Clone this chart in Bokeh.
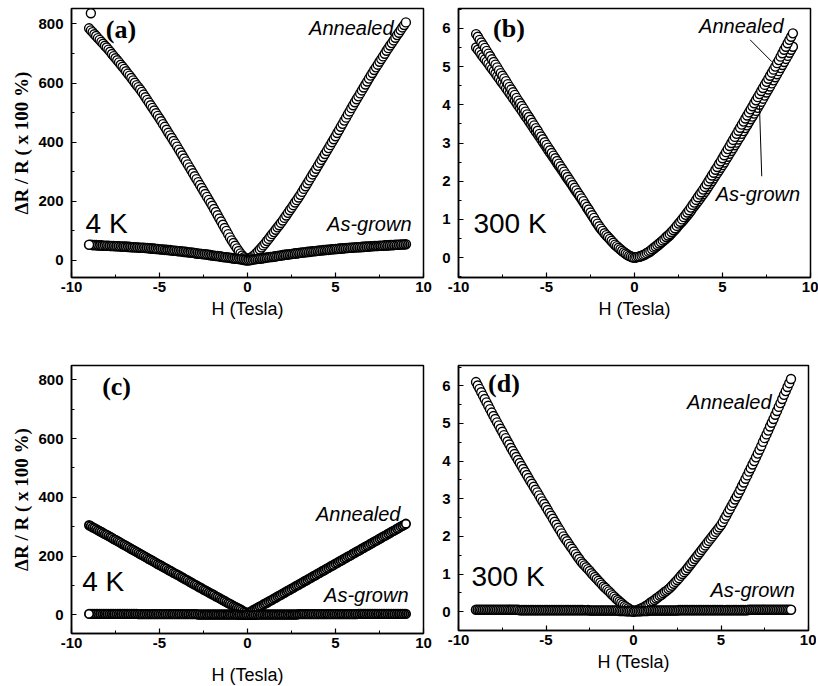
import numpy as np
from bokeh.plotting import figure
from bokeh.layouts import row, column
from bokeh.models import Label, Range1d, SingleIntervalTicker
from bokeh.embed import file_html
from bokeh.resources import INLINE

# Magnetic field sweep (Tesla), 0.1 T steps from -9 to 9
H = np.round(np.arange(-90, 91) / 10.0, 1)

# ---------------- (a) 4 K, % ----------------
A_ANN = [
    785, 778, 772, 765, 759, 752, 746, 739, 733, 726,
    720, 713, 706, 698, 691, 684, 677, 670, 662, 655,
    648, 640, 632, 625, 617, 609, 601, 593, 586, 578,
    570, 561, 552, 543, 534, 525, 516, 507, 498, 489,
    480, 471, 461, 452, 442, 432, 423, 414, 404, 395,
    385, 375, 365, 355, 345, 335, 325, 315, 305, 295,
    285, 275, 265, 255, 245, 235, 225, 215, 205, 195,
    185, 174, 164, 153, 142, 132, 121, 110, 100, 89,
    78, 68, 59, 50, 41, 32, 24, 17, 11, 7,
    5,
    7, 10, 14, 19, 25, 31, 37, 44, 51, 58,
    66, 73, 81, 89, 96, 104, 112, 119, 127, 135,
    144, 152, 161, 170, 178, 187, 196, 204, 213, 222,
    232, 242, 251, 261, 271, 281, 291, 300, 310, 320,
    330, 340, 350, 360, 370, 380, 390, 400, 410, 420,
    431, 441, 452, 462, 473, 483, 494, 504, 515, 525,
    535, 545, 555, 565, 575, 585, 595, 605, 615, 625,
    634, 644, 653, 662, 672, 681, 690, 699, 709, 718,
    727, 735, 744, 753, 762, 770, 779, 788, 796, 805,
]
A_ANN_FIRST_H = [-8.9]
A_ANN_FIRST_V = [836]
A_ASG = [
    53, 53, 52, 52, 52, 51, 51, 51, 50, 50,
    50, 50, 49, 49, 49, 48, 48, 48, 47, 47,
    47, 47, 46, 46, 45, 45, 45, 44, 44, 43,
    43, 43, 42, 42, 41, 41, 40, 40, 39, 39,
    38, 37, 37, 36, 36, 35, 35, 34, 33, 33,
    32, 31, 31, 30, 29, 29, 28, 27, 27, 26,
    25, 24, 23, 23, 22, 21, 21, 20, 19, 18,
    17, 16, 15, 15, 14, 13, 12, 11, 11, 10,
    9, 8, 7, 6, 6, 5, 4, 3, 2, 1,
    0,
    1, 2, 3, 4, 5, 6, 6, 7, 8, 9,
    10, 11, 12, 12, 13, 14, 15, 16, 17, 18,
    19, 20, 20, 21, 22, 23, 24, 24, 25, 26,
    27, 27, 28, 29, 29, 30, 31, 31, 32, 33,
    34, 34, 35, 35, 36, 36, 37, 38, 38, 39,
    39, 40, 40, 41, 41, 42, 42, 43, 43, 44,
    44, 45, 45, 45, 46, 46, 47, 47, 47, 48,
    48, 49, 49, 49, 50, 50, 50, 51, 51, 51,
    52, 52, 52, 53, 53, 53, 54, 54, 54, 55,
]

# ---------------- (b) 300 K, % ----------------
B_ANN = [
    5.85, 5.78, 5.70, 5.63, 5.56, 5.49, 5.41, 5.34, 5.27, 5.19,
    5.12, 5.05, 4.98, 4.90, 4.83, 4.76, 4.69, 4.62, 4.54, 4.47,
    4.40, 4.33, 4.26, 4.18, 4.11, 4.04, 3.97, 3.90, 3.82, 3.75,
    3.68, 3.61, 3.53, 3.46, 3.39, 3.32, 3.24, 3.17, 3.10, 3.02,
    2.95, 2.88, 2.81, 2.74, 2.67, 2.60, 2.53, 2.46, 2.39, 2.32,
    2.25, 2.18, 2.11, 2.04, 1.97, 1.90, 1.83, 1.76, 1.69, 1.62,
    1.55, 1.48, 1.40, 1.33, 1.26, 1.18, 1.11, 1.04, 0.96, 0.89,
    0.82, 0.76, 0.70, 0.64, 0.59, 0.54, 0.49, 0.44, 0.39, 0.34,
    0.30, 0.26, 0.22, 0.18, 0.14, 0.11, 0.08, 0.05, 0.03, 0.01,
    0.00,
    0.01, 0.02, 0.03, 0.05, 0.07, 0.09, 0.12, 0.15, 0.18, 0.22,
    0.26, 0.29, 0.33, 0.37, 0.41, 0.45, 0.49, 0.54, 0.58, 0.62,
    0.67, 0.72, 0.77, 0.83, 0.89, 0.94, 1.00, 1.06, 1.12, 1.18,
    1.24, 1.31, 1.38, 1.44, 1.51, 1.58, 1.65, 1.71, 1.78, 1.85,
    1.92, 2.00, 2.07, 2.15, 2.22, 2.30, 2.37, 2.45, 2.52, 2.60,
    2.68, 2.76, 2.84, 2.92, 3.00, 3.08, 3.16, 3.24, 3.32, 3.40,
    3.48, 3.56, 3.64, 3.72, 3.80, 3.88, 3.96, 4.04, 4.12, 4.20,
    4.28, 4.36, 4.44, 4.52, 4.60, 4.68, 4.76, 4.84, 4.92, 5.00,
    5.09, 5.17, 5.26, 5.35, 5.44, 5.52, 5.61, 5.70, 5.78, 5.87,
]
B_ASG = [
    5.50, 5.44, 5.38, 5.31, 5.25, 5.19, 5.13, 5.07, 5.00, 4.94,
    4.88, 4.82, 4.75, 4.69, 4.62, 4.56, 4.50, 4.43, 4.37, 4.30,
    4.24, 4.17, 4.11, 4.04, 3.97, 3.91, 3.84, 3.77, 3.70, 3.64,
    3.57, 3.50, 3.43, 3.36, 3.29, 3.23, 3.16, 3.09, 3.02, 2.95,
    2.88, 2.81, 2.74, 2.68, 2.61, 2.54, 2.47, 2.40, 2.34, 2.27,
    2.20, 2.13, 2.06, 2.00, 1.93, 1.86, 1.79, 1.72, 1.66, 1.59,
    1.52, 1.45, 1.38, 1.30, 1.23, 1.16, 1.09, 1.02, 0.94, 0.87,
    0.80, 0.74, 0.69, 0.63, 0.58, 0.53, 0.48, 0.43, 0.38, 0.33,
    0.29, 0.25, 0.21, 0.17, 0.14, 0.10, 0.07, 0.05, 0.03, 0.01,
    0.00,
    0.01, 0.02, 0.03, 0.04, 0.06, 0.08, 0.11, 0.13, 0.16, 0.20,
    0.23, 0.27, 0.30, 0.34, 0.38, 0.42, 0.46, 0.50, 0.54, 0.58,
    0.63, 0.68, 0.73, 0.78, 0.84, 0.89, 0.94, 0.99, 1.05, 1.10,
    1.16, 1.22, 1.29, 1.35, 1.41, 1.47, 1.53, 1.60, 1.66, 1.72,
    1.79, 1.86, 1.93, 2.00, 2.07, 2.14, 2.21, 2.28, 2.35, 2.42,
    2.49, 2.57, 2.64, 2.72, 2.79, 2.86, 2.94, 3.01, 3.09, 3.16,
    3.24, 3.31, 3.39, 3.46, 3.54, 3.62, 3.69, 3.77, 3.84, 3.92,
    4.00, 4.08, 4.16, 4.24, 4.32, 4.40, 4.48, 4.56, 4.64, 4.72,
    4.80, 4.88, 4.96, 5.04, 5.12, 5.20, 5.28, 5.36, 5.44, 5.52,
]

# ---------------- (c) 4 K, % ----------------
C_ANN = [
    305, 302, 298, 295, 292, 288, 285, 282, 278, 275,
    272, 269, 265, 262, 258, 255, 252, 248, 245, 241,
    238, 235, 231, 228, 224, 221, 218, 214, 211, 207,
    204, 201, 197, 194, 190, 187, 184, 180, 177, 173,
    170, 167, 163, 160, 157, 153, 150, 147, 143, 140,
    137, 134, 130, 127, 123, 120, 117, 113, 110, 106,
    103, 100, 96, 93, 90, 86, 83, 80, 76, 73,
    70, 67, 63, 60, 57, 53, 50, 47, 43, 40,
    37, 34, 30, 27, 24, 21, 18, 14, 11, 8,
    5,
    8, 11, 15, 18, 21, 25, 28, 31, 35, 38,
    41, 45, 48, 51, 55, 58, 62, 65, 68, 72,
    75, 79, 82, 85, 89, 92, 96, 99, 102, 106,
    109, 113, 116, 119, 123, 126, 130, 133, 136, 140,
    143, 147, 150, 153, 157, 160, 164, 167, 170, 174,
    177, 181, 184, 187, 191, 194, 198, 201, 204, 208,
    211, 215, 218, 221, 225, 228, 232, 235, 238, 242,
    245, 249, 252, 255, 259, 262, 266, 269, 272, 276,
    279, 283, 286, 289, 293, 296, 300, 303, 306, 310,
]
C_ASG = [
    3, 3, 3, 3, 3, 3, 3, 3, 3, 3,
    3, 3, 3, 3, 3, 3, 3, 3, 3, 3,
    3, 3, 3, 3, 3, 3, 3, 3, 2, 2,
    2, 2, 2, 2, 2, 2, 2, 2, 2, 2,
    2, 2, 2, 2, 2, 2, 2, 2, 2, 2,
    2, 2, 2, 2, 2, 2, 2, 2, 2, 2,
    2, 2, 1, 1, 1, 1, 1, 1, 1, 1,
    1, 1, 1, 1, 1, 1, 1, 1, 1, 1,
    1, 1, 1, 1, 1, 0, 0, 0, 0, 0,
    0,
    0, 0, 0, 0, 0, 1, 1, 1, 1, 1,
    1, 1, 1, 1, 1, 1, 1, 1, 1, 1,
    1, 1, 1, 1, 1, 1, 1, 1, 2, 2,
    2, 2, 2, 2, 2, 2, 2, 2, 2, 2,
    2, 2, 2, 2, 2, 2, 2, 2, 2, 2,
    2, 2, 2, 2, 2, 2, 2, 2, 2, 2,
    2, 2, 3, 3, 3, 3, 3, 3, 3, 3,
    3, 3, 3, 3, 3, 3, 3, 3, 3, 3,
    3, 3, 3, 3, 3, 3, 3, 3, 3, 3,
]

# ---------------- (d) 300 K, % ----------------
D_ANN = [
    6.10, 6.01, 5.92, 5.83, 5.74, 5.65, 5.56, 5.47, 5.38, 5.29,
    5.20, 5.12, 5.03, 4.95, 4.86, 4.78, 4.69, 4.61, 4.52, 4.44,
    4.35, 4.27, 4.19, 4.11, 4.03, 3.95, 3.87, 3.79, 3.71, 3.63,
    3.55, 3.47, 3.40, 3.32, 3.24, 3.17, 3.09, 3.01, 2.93, 2.86,
    2.78, 2.70, 2.62, 2.55, 2.47, 2.39, 2.31, 2.23, 2.16, 2.08,
    2.00, 1.93, 1.87, 1.80, 1.73, 1.67, 1.60, 1.53, 1.46, 1.40,
    1.33, 1.28, 1.23, 1.18, 1.13, 1.08, 1.02, 0.97, 0.92, 0.87,
    0.82, 0.77, 0.72, 0.67, 0.63, 0.58, 0.54, 0.49, 0.44, 0.40,
    0.35, 0.31, 0.27, 0.23, 0.19, 0.15, 0.12, 0.09, 0.06, 0.04,
    0.02,
    0.03, 0.04, 0.06, 0.08, 0.10, 0.12, 0.15, 0.18, 0.21, 0.25,
    0.28, 0.31, 0.35, 0.38, 0.42, 0.45, 0.49, 0.53, 0.56, 0.60,
    0.64, 0.69, 0.74, 0.79, 0.84, 0.89, 0.95, 1.00, 1.05, 1.10,
    1.16, 1.22, 1.28, 1.34, 1.40, 1.46, 1.52, 1.58, 1.64, 1.70,
    1.76, 1.82, 1.88, 1.94, 2.00, 2.06, 2.12, 2.18, 2.24, 2.30,
    2.38, 2.47, 2.55, 2.64, 2.72, 2.81, 2.89, 2.98, 3.06, 3.15,
    3.24, 3.34, 3.43, 3.53, 3.62, 3.72, 3.81, 3.91, 4.00, 4.10,
    4.20, 4.30, 4.40, 4.51, 4.61, 4.71, 4.81, 4.92, 5.02, 5.12,
    5.23, 5.33, 5.44, 5.54, 5.65, 5.76, 5.86, 5.97, 6.07, 6.18,
]
D_ASG = [
    0.05, 0.05, 0.05, 0.05, 0.05, 0.05, 0.05, 0.05, 0.05, 0.05,
    0.05, 0.05, 0.05, 0.05, 0.05, 0.05, 0.05, 0.05, 0.05, 0.05,
    0.05, 0.05, 0.05, 0.05, 0.05, 0.04, 0.04, 0.04, 0.04, 0.04,
    0.04, 0.04, 0.04, 0.04, 0.04, 0.04, 0.04, 0.04, 0.04, 0.04,
    0.04, 0.04, 0.04, 0.04, 0.04, 0.04, 0.04, 0.04, 0.04, 0.04,
    0.04, 0.04, 0.04, 0.04, 0.04, 0.04, 0.04, 0.04, 0.04, 0.04,
    0.04, 0.04, 0.04, 0.04, 0.04, 0.03, 0.03, 0.03, 0.03, 0.03,
    0.03, 0.03, 0.03, 0.03, 0.03, 0.03, 0.03, 0.03, 0.03, 0.03,
    0.03, 0.03, 0.02, 0.02, 0.02, 0.02, 0.01, 0.01, 0.01, 0.01,
    0.00,
    0.01, 0.01, 0.01, 0.01, 0.02, 0.02, 0.02, 0.02, 0.03, 0.03,
    0.03, 0.03, 0.03, 0.03, 0.03, 0.03, 0.03, 0.03, 0.03, 0.03,
    0.03, 0.03, 0.03, 0.03, 0.03, 0.04, 0.04, 0.04, 0.04, 0.04,
    0.04, 0.04, 0.04, 0.04, 0.04, 0.04, 0.04, 0.04, 0.04, 0.04,
    0.04, 0.04, 0.04, 0.04, 0.04, 0.04, 0.04, 0.04, 0.04, 0.04,
    0.04, 0.04, 0.04, 0.04, 0.04, 0.04, 0.04, 0.04, 0.04, 0.04,
    0.04, 0.04, 0.04, 0.04, 0.04, 0.05, 0.05, 0.05, 0.05, 0.05,
    0.05, 0.05, 0.05, 0.05, 0.05, 0.05, 0.05, 0.05, 0.05, 0.05,
    0.05, 0.05, 0.05, 0.05, 0.05, 0.05, 0.05, 0.05, 0.05, 0.05,
]

# Leader lines in panel (b): [x0, y0, x1, y1]
B_LEADER_ANN = [6.57, 5.70, 7.80, 5.13]
B_LEADER_ASG = [7.10, 3.96, 7.23, 2.13]

Y_LABEL = "\u0394R / R ( x 100 %)"
X_LABEL = "H (Tesla)"
X_TICK_TEXT = {-10: "-10", -5: "-5", 0: "0", 5: "5", 10: "10"}
SANS = "Liberation Sans"
SERIF = "Liberation Serif"


def make_fig(yr, ytick, b_left, b_right, b_top, b_bottom, fw, fh,
             ylabel=None, xlab_standoff=4):
    p = figure(frame_width=fw, frame_height=fh,
               min_border_left=b_left, min_border_right=b_right,
               min_border_top=b_top, min_border_bottom=b_bottom,
               x_range=Range1d(-10, 10), y_range=Range1d(*yr),
               output_backend="svg", toolbar_location=None, tools="")
    p.background_fill_color = "white"
    p.border_fill_color = "white"
    p.grid.visible = False
    p.outline_line_color = "black"
    p.outline_line_width = 1.5
    p.outline_line_alpha = 1.0
    p.xaxis.ticker = SingleIntervalTicker(interval=5, num_minor_ticks=2)
    p.yaxis.ticker = SingleIntervalTicker(interval=ytick, num_minor_ticks=2)
    p.xaxis.major_label_overrides = X_TICK_TEXT
    for ax in (p.xaxis[0], p.yaxis[0]):
        ax.axis_line_width = 1.5
        ax.axis_line_color = "black"
        ax.major_tick_in = 5
        ax.major_tick_out = 0
        ax.minor_tick_in = 3
        ax.minor_tick_out = 0
        ax.major_tick_line_width = 1.2
        ax.minor_tick_line_width = 1.0
        ax.major_label_text_font = SANS
        ax.major_label_text_font_size = "15px"
        ax.major_label_text_font_style = "bold"
        ax.major_label_text_color = "black"
    p.xaxis.major_label_standoff = 4
    p.yaxis.major_label_standoff = 8
    p.xaxis.axis_label = X_LABEL
    p.xaxis.axis_label_text_font = SANS
    p.xaxis.axis_label_text_font_size = "18px"
    p.xaxis.axis_label_text_font_style = "normal"
    p.xaxis.axis_label_text_color = "black"
    p.xaxis.axis_label_standoff = xlab_standoff
    if ylabel:
        p.yaxis.axis_label = ylabel
        p.yaxis.axis_label_text_font = SERIF
        p.yaxis.axis_label_text_font_size = "19px"
        p.yaxis.axis_label_text_font_style = "bold"
        p.yaxis.axis_label_text_color = "black"
        p.yaxis.axis_label_standoff = 3
    return p


def circles(p, xs, ys, size=9, lw=1.4):
    p.scatter(x=list(xs), y=list(ys), marker="circle", size=size,
              fill_color="white", line_color="black", line_width=lw)


def text(p, x, y, s, size, align="left", font=SANS, style="normal",
         baseline="alphabetic"):
    p.add_layout(Label(x=x, y=y, text=s, text_font=font,
                       text_font_size=size, text_font_style=style,
                       text_align=align, text_baseline=baseline,
                       text_color="black"))


H_rev = H[::-1]

# (a)
pa = make_fig((-57.5, 852), 200, 71, 16, 8, 53, 352, 269, Y_LABEL)
circles(pa, H, A_ANN)
circles(pa, A_ANN_FIRST_H, A_ANN_FIRST_V)
circles(pa, H_rev, A_ASG[::-1], lw=1.6)
text(pa, -7.19, 782, "(a)", "26px", align="center", font=SERIF,
     style="bold", baseline="middle")
text(pa, 8.3, 786, "Annealed", "20px", align="right", style="italic")
text(pa, 9.32, 125, "As-grown", "20px", align="right", style="italic")
text(pa, -9.2, 124, "4 K", "28px")

# (b)
pb = make_fig((-0.52, 6.52), 1, 16, 8, 8, 53, 352, 269)
circles(pb, H, B_ASG)
circles(pb, H, B_ANN)
pb.segment(x0=[B_LEADER_ANN[0], B_LEADER_ASG[0]],
           y0=[B_LEADER_ANN[1], B_LEADER_ASG[1]],
           x1=[B_LEADER_ANN[2], B_LEADER_ASG[2]],
           y1=[B_LEADER_ANN[3], B_LEADER_ASG[3]],
           line_color="black", line_width=1)
text(pb, -7.13, 5.99, "(b)", "26px", align="center", font=SERIF,
     style="bold", baseline="middle")
text(pb, 8.47, 6.05, "Annealed", "20px", align="right", style="italic")
text(pb, 9.41, 1.67, "As-grown", "20px", align="right", style="italic")
text(pb, -9.15, 0.9, "300 K", "28px")

# (c)
pc = make_fig((-63.7, 849), 200, 71, 16, 35, 51, 352, 268, Y_LABEL,
              xlab_standoff=14)
circles(pc, H, C_ANN, size=8.5, lw=1.8)
circles(pc, H_rev, C_ASG[::-1], size=8.5, lw=1.8)
text(pc, -7.44, 779, "(c)", "26px", align="center", font=SERIF,
     style="bold", baseline="middle")
text(pc, 8.69, 343, "Annealed", "20px", align="right", style="italic")
text(pc, 9.15, 67, "As-grown", "20px", align="right", style="italic")
text(pc, -9.39, 114, "4 K", "28px")

# (d)
pd_ = make_fig((-0.5, 6.54), 1, 18, 8, 33, 56, 350, 265, xlab_standoff=4)
circles(pd_, H, D_ANN)
circles(pd_, H, D_ASG, lw=1.6)
text(pd_, -7.4, 6.05, "(d)", "26px", align="center", font=SERIF,
     style="bold", baseline="middle")
text(pd_, 7.89, 5.57, "Annealed", "20px", align="right", style="italic")
text(pd_, 9.22, 0.57, "As-grown", "20px", align="right", style="italic")
text(pd_, -9.26, 0.94, "300 K", "28px")

layout = column(row(pa, pb), row(pc, pd_))
open("out.html", "w").write(file_html(layout, INLINE))
